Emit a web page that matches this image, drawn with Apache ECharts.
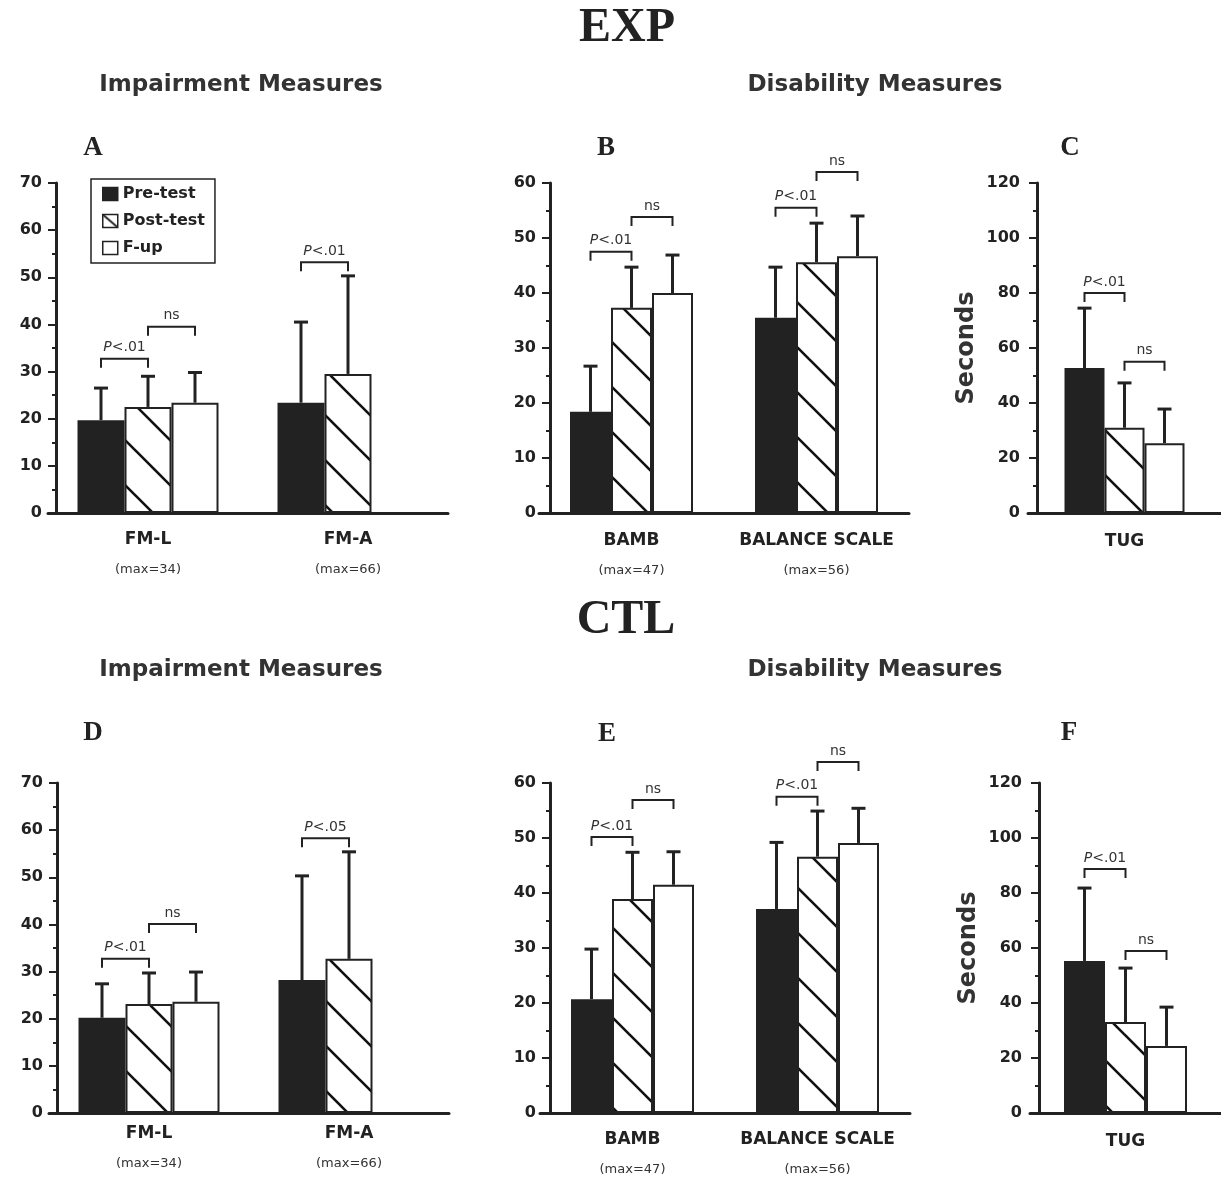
<!DOCTYPE html>
<html>
<head>
<meta charset="utf-8">
<script src="https://cdn.jsdelivr.net/npm/echarts@6.0.0/dist/echarts.min.js"></script>
<style>
  html, body { margin: 0; padding: 0; background: #fff; }
  #chart { width: 1221px; height: 1179px; }
</style>
</head>
<body>
<div id="chart"></div>
<script>
// groups
var seriesNames = ['Pre-test', 'Post-test', 'F-up'];

// categories
var impairCats = ['FM-L', 'FM-A'];
var impairMax = ['(max=34)', '(max=66)'];
var disabCats = ['BAMB', 'BALANCE SCALE'];
var disabMax = ['(max=47)', '(max=56)'];
var tugCats = ['TUG'];

// EXP group: means and SD (one value per category)
var expImpairPre = [19.7, 23.4], expImpairPreSd = [6.8, 17.1];
var expImpairPost = [22.5, 29.5], expImpairPostSd = [6.5, 20.8];
var expImpairFup = [23.4, null], expImpairFupSd = [6.4, null];

var expDisabPre = [18.4, 35.5], expDisabPreSd = [8.3, 9.2];
var expDisabPost = [37.3, 45.6], expDisabPostSd = [7.4, 7.1];
var expDisabFup = [40.0, 46.7], expDisabFupSd = [6.9, 7.3];

var expTugPre = [52.7], expTugPreSd = [21.8];
var expTugPost = [31.0], expTugPostSd = [16.3];
var expTugFup = [25.4], expTugFupSd = [12.4];

// CTL group
var ctlImpairPre = [20.2, 28.2], ctlImpairPreSd = [7.2, 22.1];
var ctlImpairPost = [23.1, 32.7], ctlImpairPostSd = [6.6, 22.7];
var ctlImpairFup = [23.6, null], ctlImpairFupSd = [6.3, null];

var ctlDisabPre = [20.7, 37.1], ctlDisabPreSd = [9.1, 12.1];
var ctlDisabPost = [38.9, 46.6], ctlDisabPostSd = [8.5, 8.3];
var ctlDisabFup = [41.5, 49.1], ctlDisabFupSd = [6.0, 6.3];

var ctlTugPre = [55.3], ctlTugPreSd = [26.5];
var ctlTugPost = [33.1], ctlTugPostSd = [19.6];
var ctlTugFup = [24.4], ctlTugFupSd = [14.1];

// significance brackets: [category, from bar, to bar, height, label]
var expImpairSig = [[0, 0, 1, 32.7, 'P<.01'], [0, 1, 2, 39.5, 'ns'], [1, 0, 1, 53.2, 'P<.01']];
var expDisabSig = [[0, 0, 1, 47.5, 'P<.01'], [0, 1, 2, 53.8, 'ns'], [1, 0, 1, 55.5, 'P<.01'], [1, 1, 2, 62.0, 'ns']];
var expTugSig = [[0, 0, 1, 80.0, 'P<.01'], [0, 1, 2, 55.0, 'ns']];
var ctlImpairSig = [[0, 0, 1, 32.7, 'P<.01'], [0, 1, 2, 40.1, 'ns'], [1, 0, 1, 58.3, 'P<.05']];
var ctlDisabSig = [[0, 0, 1, 50.2, 'P<.01'], [0, 1, 2, 56.9, 'ns'], [1, 0, 1, 57.5, 'P<.01'], [1, 1, 2, 63.8, 'ns']];
var ctlTugSig = [[0, 0, 1, 88.7, 'P<.01'], [0, 1, 2, 58.9, 'ns']];

// y axis ranges
var impairAxis = [0, 70, 10];
var disabAxis = [0, 60, 10];
var tugAxis = [0, 120, 20];

var INK = '#222';
var SANS = 'DejaVu Sans';

function hatchCanvas(w, h, lw) {
    var c = document.createElement('canvas');
    c.width = w; c.height = h;
    var g = c.getContext('2d');
    g.fillStyle = '#fff';
    g.fillRect(0, 0, w, h);
    g.strokeStyle = '#111';
    g.lineWidth = lw;
    for (var k = -1; k <= 1; k++) {
        g.beginPath();
        g.moveTo(k * w - 2, -2 * h / w);
        g.lineTo(k * w + w + 2, h + 2 * h / w);
        g.stroke();
    }
    return c;
}
var hatch = { image: hatchCanvas(45, 45, 2.6), repeat: 'repeat' };
var legendHatch = { image: hatchCanvas(15, 13, 1.8), repeat: 'no-repeat' };
var fills = [INK, hatch, '#fff'];

var panels = [
    { cats: impairCats, subs: impairMax, axis: impairAxis, sig: expImpairSig,
      mean: [expImpairPre, expImpairPost, expImpairFup], sd: [expImpairPreSd, expImpairPostSd, expImpairFupSd],
      left: 48, top: 183, width: 400, yOff: -8, barW: 47, lm: 14 },
    { cats: disabCats, subs: disabMax, axis: disabAxis, sig: expDisabSig,
      mean: [expDisabPre, expDisabPost, expDisabFup], sd: [expDisabPreSd, expDisabPostSd, expDisabFupSd],
      left: 539, top: 183, width: 370, yOff: -11, barW: 41, lm: 15 },
    { cats: tugCats, subs: null, axis: tugAxis, sig: expTugSig, name: 'Seconds',
      mean: [expTugPre, expTugPost, expTugFup], sd: [expTugPreSd, expTugPostSd, expTugFupSd],
      left: 1028, top: 183, width: 220, yOff: -9, barW: 40, lm: 16 },
    { cats: impairCats, subs: impairMax, axis: impairAxis, sig: ctlImpairSig,
      mean: [ctlImpairPre, ctlImpairPost, ctlImpairFup], sd: [ctlImpairPreSd, ctlImpairPostSd, ctlImpairFupSd],
      left: 49, top: 783, width: 400, yOff: -8, barW: 47, lm: 8 },
    { cats: disabCats, subs: disabMax, axis: disabAxis, sig: ctlDisabSig,
      mean: [ctlDisabPre, ctlDisabPost, ctlDisabFup], sd: [ctlDisabPreSd, ctlDisabPostSd, ctlDisabFupSd],
      left: 540, top: 783, width: 370, yOff: -10, barW: 41, lm: 14 },
    { cats: tugCats, subs: null, axis: tugAxis, sig: ctlTugSig, name: 'Seconds',
      mean: [ctlTugPre, ctlTugPost, ctlTugFup], sd: [ctlTugPreSd, ctlTugPostSd, ctlTugFupSd],
      left: 1030, top: 783, width: 222, yOff: -9, barW: 41, lm: 16 }
];

var grids = [], xAxes = [], yAxes = [], series = [];

panels.forEach(function (p, pi) {
    grids.push({ left: p.left, top: p.top, width: p.width, height: 330 });
    xAxes.push({
        type: 'category', gridIndex: pi, data: p.cats,
        axisLine: { lineStyle: { color: INK, width: 3 } },
        axisTick: { show: false },
        axisLabel: {
            interval: 0, margin: p.lm,
            formatter: function (v, i) {
                return p.subs ? '{a|' + v + '}\n{b|' + p.subs[i] + '}' : '{a|' + v + '}';
            },
            rich: {
                a: { fontFamily: SANS, fontWeight: 'bold', fontSize: 17, color: INK, lineHeight: 26 },
                b: { fontFamily: SANS, fontSize: 13, color: '#333', lineHeight: 34 }
            }
        }
    });
    yAxes.push({
        type: 'value', gridIndex: pi, position: 'left', offset: p.yOff,
        min: p.axis[0], max: p.axis[1], interval: p.axis[2],
        name: p.name || '', nameLocation: 'middle', nameGap: 58, nameRotate: 90,
        nameTextStyle: { fontFamily: SANS, fontWeight: 'bold', fontSize: 24, color: '#333' },
        axisLine: { show: true, lineStyle: { color: INK, width: 3 } },
        axisTick: { show: true, length: 8, lineStyle: { color: INK, width: 2 } },
        minorTick: { show: true, splitNumber: 2, length: 4, lineStyle: { color: INK, width: 2 } },
        splitLine: { show: false },
        axisLabel: { margin: p.name ? 17 : 14, color: INK, fontFamily: SANS, fontWeight: 'bold', fontSize: 16 }
    });

    // bars
    seriesNames.forEach(function (nm, k) {
        series.push({
            name: nm, type: 'bar', xAxisIndex: pi, yAxisIndex: pi,
            barWidth: p.barW, barGap: '0%',
            data: p.mean[k],
            itemStyle: { color: fills[k], borderColor: INK, borderWidth: 2 },
            z: 2
        });
    });

    // error bars (upper half only)
    var errData = [];
    p.mean.forEach(function (arr, k) {
        arr.forEach(function (m, i) {
            if (m != null) errData.push([i, k, m, p.sd[k][i]]);
        });
    });
    series.push({
        type: 'custom', xAxisIndex: pi, yAxisIndex: pi, clip: false, z: 3,
        encode: { x: 0, y: 2 },
        data: errData,
        renderItem: function (params, api) {
            var cat = api.value(0), k = api.value(1), m = api.value(2), s = api.value(3);
            var x = api.coord([cat, 0])[0] + (k - 1) * p.barW;
            var y0 = api.coord([cat, m])[1], y1 = api.coord([cat, m + s])[1];
            return { type: 'group', children: [
                { type: 'line', shape: { x1: x, y1: y0, x2: x, y2: y1 }, style: { stroke: INK, lineWidth: 3 } },
                { type: 'line', shape: { x1: x - 7, y1: y1, x2: x + 7, y2: y1 }, style: { stroke: INK, lineWidth: 3 } }
            ] };
        }
    });

    // significance brackets
    series.push({
        type: 'custom', xAxisIndex: pi, yAxisIndex: pi, clip: false, z: 4,
        encode: { x: 0, y: 1 },
        data: p.sig.map(function (b) { return [b[0], b[3]]; }),
        renderItem: function (params, api) {
            var b = p.sig[params.dataIndex];
            var c = api.coord([b[0], b[3]]);
            var xa = c[0] + (b[1] - 1) * p.barW, xb = c[0] + (b[2] - 1) * p.barW, y = c[1];
            var txt = b[4].charAt(0) === 'P' ? '{i|P}{n|' + b[4].slice(1) + '}' : '{n|' + b[4] + '}';
            return { type: 'group', children: [
                { type: 'polyline', shape: { points: [[xa, y + 9], [xa, y], [xb, y], [xb, y + 9]] },
                  style: { stroke: INK, lineWidth: 2, fill: null } },
                { type: 'text', x: (xa + xb) / 2, y: y - 4,
                  style: { text: txt, align: 'center', verticalAlign: 'bottom',
                    rich: {
                        i: { fontFamily: SANS, fontStyle: 'italic', fontSize: 14, fill: '#333' },
                        n: { fontFamily: SANS, fontSize: 14, fill: '#333' }
                    } } }
            ] };
        }
    });
});

function label(text, x, y, size, font, weight, color) {
    return { type: 'text', x: x, y: y, silent: true,
        style: { text: text, align: 'center', verticalAlign: 'middle',
            fontFamily: font, fontSize: size, fontWeight: weight, fill: color } };
}
var SERIF = 'Liberation Serif';
var graphics = [
    label('EXP', 627, 29, 48, SERIF, 'bold', INK),
    label('CTL', 626, 621, 48, SERIF, 'bold', INK),
    label('Impairment Measures', 241, 85, 23, SANS, 'bold', '#333'),
    label('Disability Measures', 875, 85, 23, SANS, 'bold', '#333'),
    label('Impairment Measures', 241, 670, 23, SANS, 'bold', '#333'),
    label('Disability Measures', 875, 670, 23, SANS, 'bold', '#333'),
    label('A', 93, 148, 27, SERIF, 'bold', INK),
    label('B', 606, 148, 27, SERIF, 'bold', INK),
    label('C', 1070, 148, 27, SERIF, 'bold', INK),
    label('D', 93, 733, 27, SERIF, 'bold', INK),
    label('E', 607, 734, 27, SERIF, 'bold', INK),
    label('F', 1069, 733, 27, SERIF, 'bold', INK)
];

var chart = echarts.init(document.getElementById('chart'), null, { renderer: 'canvas' });
chart.setOption({
    backgroundColor: '#fff',
    animation: false,
    grid: grids,
    xAxis: xAxes,
    yAxis: yAxes,
    legend: {
        left: 91, top: 179, orient: 'vertical', selectedMode: false,
        borderColor: INK, borderWidth: 1.5, padding: [7, 10, 7, 11],
        itemWidth: 15, itemHeight: 13, itemGap: 11, itemTextGap: 12,
        icon: 'rect',
        textStyle: { fontFamily: SANS, fontWeight: 'bold', fontSize: 16, color: INK },
        data: [
            { name: 'Pre-test', itemStyle: { color: INK, borderColor: INK, borderWidth: 1.5 } },
            { name: 'Post-test', itemStyle: { color: legendHatch, borderColor: INK, borderWidth: 1.5 } },
            { name: 'F-up', itemStyle: { color: '#fff', borderColor: INK, borderWidth: 1.5 } }
        ]
    },
    graphic: graphics,
    series: series
});
window.addEventListener('resize', function () { chart.resize(); });
</script>
</body>
</html>
